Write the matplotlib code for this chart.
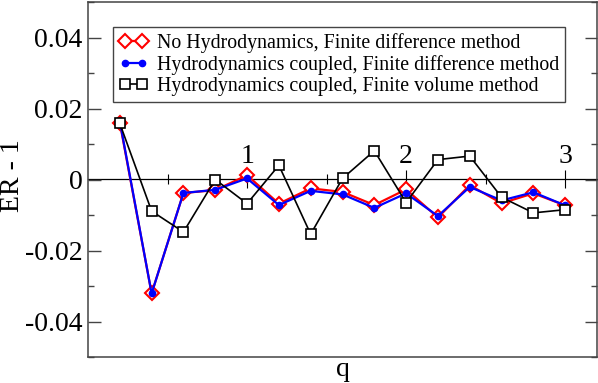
import matplotlib
matplotlib.use('Agg')
import matplotlib.pyplot as plt
from matplotlib.ticker import MultipleLocator, FixedLocator, NullFormatter

plt.rcParams['font.family'] = 'Liberation Serif'

# q values and ER - 1 for the three runs
q = [0.2, 0.4, 0.6, 0.8, 1.0, 1.2, 1.4, 1.6, 1.8, 2.0, 2.2, 2.4, 2.6, 2.8, 3.0]
no_hydro_fd = [0.016, -0.0321, -0.0038, -0.0030, 0.0012, -0.0068, -0.0025, -0.0035,
               -0.0072, -0.0028, -0.0107, -0.0016, -0.0067, -0.0039, -0.0073]
hydro_fd = [0.0164, -0.0321, -0.0038, -0.0029, 0.0003, -0.0072, -0.0032, -0.0042,
            -0.0080, -0.0039, -0.0103, -0.0021, -0.0059, -0.0036, -0.0073]
hydro_fv = [0.0158, -0.0089, -0.0148, 0.0, -0.0068, 0.0040, -0.0154, 0.0003,
            0.0081, -0.0065, 0.0056, 0.0066, -0.0050, -0.0094, -0.0085]
labels = ['No Hydrodynamics, Finite difference method',
          'Hydrodynamics coupled, Finite difference method',
          'Hydrodynamics coupled, Finite volume method']
q_major = [1, 2, 3]
q_minor = [0.5, 1.5, 2.5]

fig = plt.figure(figsize=(5.98, 3.83), dpi=100)
ax = fig.add_axes([88/598, 26/383, 509/598, 355/383])

ax.plot(q, no_hydro_fd, color='red', lw=1.6, marker='D', ms=7, mfc='white',
        mec='red', mew=1.5, label=labels[0])
ax.plot(q, hydro_fd, color='blue', lw=1.6, marker='o', ms=4.5, mfc='blue',
        mec='blue', label=labels[1])
ax.plot(q, hydro_fv, color='black', lw=1.2, marker='s', ms=6.5, mfc='white',
        mec='black', mew=1.2, label=labels[2])

ax.set_xlim(0, 3.2)
ax.set_ylim(-0.05, 0.05)

# y axis: ticks inside on both sides
ax.yaxis.set_minor_locator(MultipleLocator(0.01))
ax.set_yticks([-0.04, -0.02, 0, 0.02, 0.04])
ax.set_yticklabels(['-0.04', '-0.02', '0', '0.02', '0.04'])
ax.tick_params(axis='y', which='major', direction='in', length=9, width=1,
               right=True, labelsize=20, pad=4, color='#444444')
ax.tick_params(axis='y', which='minor', direction='in', length=4.5, width=1,
               right=True, color='#444444')

# x axis drawn through zero
ax.set_xticks([])
sec = ax.secondary_xaxis(0.5)
sec.xaxis.set_major_locator(FixedLocator(q_major))
sec.xaxis.set_minor_locator(FixedLocator(q_minor))
sec.xaxis.set_minor_formatter(NullFormatter())
sec.set_xticklabels([str(v) for v in q_major])
sec.tick_params(which='major', direction='inout', length=13, width=0.8,
                labelsize=20, pad=1)
sec.tick_params(which='minor', direction='inout', length=7, width=0.8)
for s in sec.spines.values():
    s.set_linewidth(0.9)

for s in ax.spines.values():
    s.set_color('#444444')
    s.set_linewidth(1.1)

ax.set_xlabel('q', fontsize=20, labelpad=0)
ax.set_ylabel('ER - 1', fontsize=20)
ax.yaxis.set_label_coords(-63/509, 0.51)

leg = ax.legend(loc='upper left', bbox_to_anchor=(25/509, 1 - 25/355), fontsize=14.3,
                numpoints=2, handlelength=1.45, handletextpad=0.45,
                labelspacing=0.1, borderpad=0.3, borderaxespad=0,
                fancybox=False, framealpha=1)
leg.get_frame().set_edgecolor('#444444')
leg.get_frame().set_linewidth(1.0)

fig.savefig('out.png', dpi=100)
